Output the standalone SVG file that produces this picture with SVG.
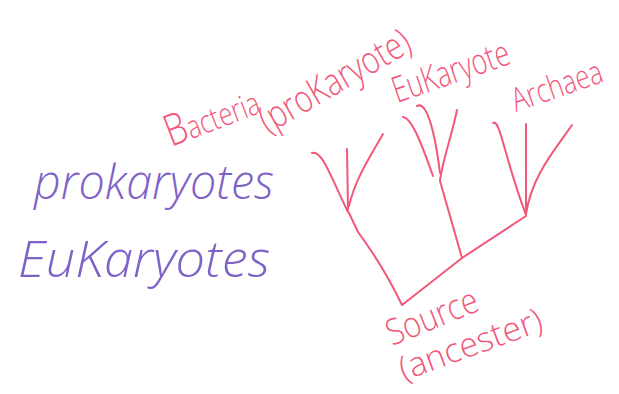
<svg xmlns="http://www.w3.org/2000/svg" width="619" height="394" viewBox="0 0 619 394">
  <style>
    .ink { fill: none; stroke: #f2587a; stroke-width: 2; stroke-linecap: round; stroke-linejoin: round; }
    .red { fill: #f2587a; font-family: "Open Sans", "Liberation Sans", sans-serif; font-weight: 300; }
    .violet { fill: #7e62c8; font-family: "Open Sans", "Liberation Sans", sans-serif; font-weight: 300; font-style: italic; }
  </style>
  <rect width="619" height="394" fill="#ffffff"/>

  <!-- purple notes on the left -->
  <g id="prokaryotes">
    <text class="violet" x="34" y="199" font-size="48" textLength="240" lengthAdjust="spacingAndGlyphs">prokaryotes</text>
  </g>
  <g id="eukaryotes">
    <text class="violet" x="18" y="277" font-size="50" textLength="252" lengthAdjust="spacingAndGlyphs">EuKaryotes</text>
  </g>

  <!-- tree branches -->
  <g id="connectors">
    <!-- bacteria cluster -->
    <path class="ink" d="M312,153 C322,150 330,175 348,212"/>
    <path class="ink" d="M347,149 L348,210"/>
    <path class="ink" d="M383,134 C368,160 355,180 349,206"/>
    <!-- eukaryote cluster -->
    <path class="ink" d="M403,117 C412,118 422,145 433,176"/>
    <path class="ink" d="M417,106 C428,100 436,140 440,173"/>
    <path class="ink" d="M457,110 C452,135 444,155 440,180"/>
    <!-- archaea cluster -->
    <path class="ink" d="M493,123 C500,118 505,160 526,215"/>
    <path class="ink" d="M526,124 L526,214"/>
    <path class="ink" d="M572,125 C555,150 532,175 526,214"/>
    <!-- trunk -->
    <path class="ink" d="M349,213 L358,232 C375,255 390,280 402,305 L462,258 L526,216"/>
    <path class="ink" d="M440,181 L462,258"/>
  </g>

  <!-- red labels -->
  <g id="bacteria">
    <text class="red" transform="translate(171,147) rotate(-21)" font-size="32" textLength="98" lengthAdjust="spacingAndGlyphs"><tspan font-size="44">B</tspan>acteria</text>
  </g>
  <g id="prokaryote-label">
    <text class="red" transform="translate(268,134) rotate(-30) scale(0.8,1)" font-size="38">(proKaryote)</text>
  </g>
  <g id="eukaryote">
    <text class="red" transform="translate(397,103) rotate(-19)" font-size="36" textLength="122" lengthAdjust="spacingAndGlyphs">EuKaryote</text>
  </g>
  <g id="archaea">
    <text class="red" transform="translate(516,112) rotate(-19) scale(0.78,1)" font-size="33">Archaea</text>
  </g>
  <g id="source">
    <text class="red" transform="translate(392,346) rotate(-22)" font-size="36" textLength="96" lengthAdjust="spacingAndGlyphs">Source</text>
    <text class="red" transform="translate(404,381) rotate(-20)" font-size="34" textLength="150" lengthAdjust="spacingAndGlyphs">(ancester)</text>
  </g>
</svg>
